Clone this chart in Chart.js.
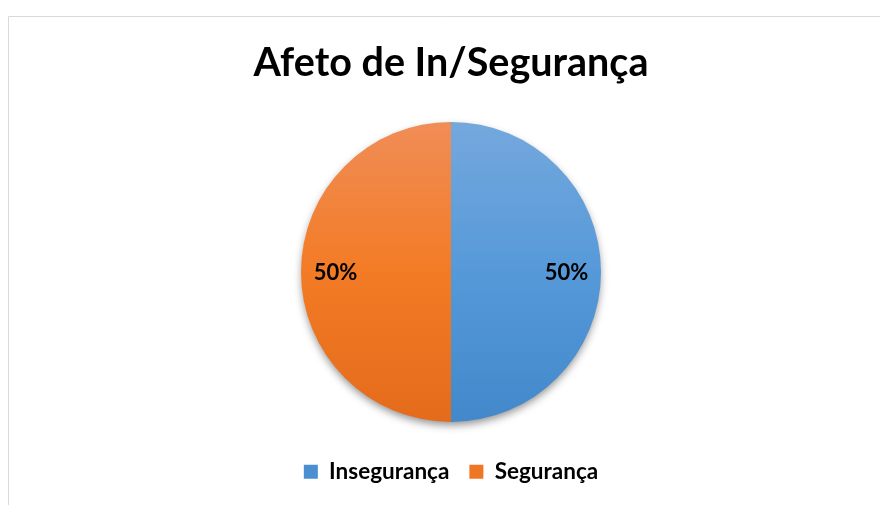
<!DOCTYPE html>
<html>
<head>
<meta charset="utf-8">
<script src="https://cdn.jsdelivr.net/npm/chart.js@4"></script>
<style>
html,body{margin:0;padding:0;background:#fff;}
#wrap{width:880px;height:505px;position:relative;}
</style>
</head>
<body>
<div id="wrap"><canvas id="c" width="880" height="505"></canvas></div>
<script>
const titleText = 'Afeto de In/Segurança';
const categories = ['Insegurança', 'Segurança'];
const values = [50, 50];
const valueLabels = ['50%', '50%'];
const gradientStops = [
  ['#74a8dd', '#5699d9', '#4288ca'],
  ['#f08d57', '#f37b25', '#e46b1b']
];
const legendColors = ['#4a8fd2', '#ee7625'];
const FONT = 'Lato, "Liberation Sans", sans-serif';
const PIE_RADIUS = 150;

const frame = {
  id: 'frame',
  beforeDraw(chart) {
    const ctx = chart.ctx;
    ctx.save();
    ctx.strokeStyle = '#d9d9d9';
    ctx.lineWidth = 1;
    ctx.beginPath();
    ctx.moveTo(8.5, 505);
    ctx.lineTo(8.5, 16.5);
    ctx.lineTo(880, 16.5);
    ctx.stroke();
    ctx.restore();
  }
};

const shadow = {
  id: 'shadow',
  beforeDatasetsDraw(chart) {
    const arc = chart.getDatasetMeta(0).data[0];
    if (!arc) return;
    const {x, y, outerRadius} = arc.getProps(['x', 'y', 'outerRadius'], true);
    const ctx = chart.ctx;
    ctx.save();
    ctx.shadowColor = 'rgba(0,0,0,0.45)';
    ctx.shadowBlur = 9;
    ctx.shadowOffsetY = 4;
    ctx.fillStyle = '#888';
    ctx.beginPath();
    ctx.arc(x, y, outerRadius - 1, 0, Math.PI * 2);
    ctx.fill();
    ctx.restore();
  }
};

const labels = {
  id: 'vlabels',
  afterDatasetsDraw(chart) {
    const ctx = chart.ctx;
    const meta = chart.getDatasetMeta(0);
    ctx.save();
    ctx.font = 'bold 22px ' + FONT;
    ctx.fillStyle = '#000';
    ctx.textAlign = 'center';
    ctx.textBaseline = 'middle';
    meta.data.forEach((arc, i) => {
      const p = arc.getProps(['x', 'y', 'startAngle', 'endAngle', 'outerRadius'], true);
      const mid = (p.startAngle + p.endAngle) / 2;
      const r = p.outerRadius * 0.77;
      ctx.fillText(valueLabels[i], p.x + Math.cos(mid) * r, p.y + Math.sin(mid) * r + 1);
    });
    ctx.restore();
  }
};

function grad(context) {
  const chart = context.chart;
  const area = chart.chartArea;
  const s = gradientStops[context.dataIndex];
  if (!area) return s[1];
  const cy = (area.top + area.bottom) / 2;
  const g = chart.ctx.createLinearGradient(0, cy - PIE_RADIUS, 0, cy + PIE_RADIUS);
  g.addColorStop(0, s[0]);
  g.addColorStop(0.5, s[1]);
  g.addColorStop(1, s[2]);
  return g;
}

new Chart(document.getElementById('c'), {
  type: 'pie',
  data: {
    labels: categories,
    datasets: [{
      data: values,
      backgroundColor: grad,
      borderWidth: 0,
      radius: PIE_RADIUS
    }]
  },
  options: {
    responsive: false,
    animation: false,
    layout: {padding: {left: 22, right: 0, top: 0, bottom: 12}},
    plugins: {
      tooltip: {enabled: false},
      title: {
        display: true,
        text: titleText,
        color: '#000',
        font: {family: FONT, size: 39.5, weight: 'bold', lineHeight: 1.2},
        padding: {top: 40, bottom: 16}
      },
      legend: {
        position: 'bottom',
        labels: {
          color: '#000',
          font: {family: FONT, size: 22.5, weight: 'bold'},
          boxWidth: 14,
          boxHeight: 14,
          padding: 20,
          generateLabels(chart) {
            return categories.map((c, i) => ({
              text: c,
              fillStyle: legendColors[i],
              strokeStyle: legendColors[i],
              lineWidth: 0,
              hidden: false,
              index: i
            }));
          }
        }
      }
    }
  },
  plugins: [frame, shadow, labels]
});
</script>
</body>
</html>
